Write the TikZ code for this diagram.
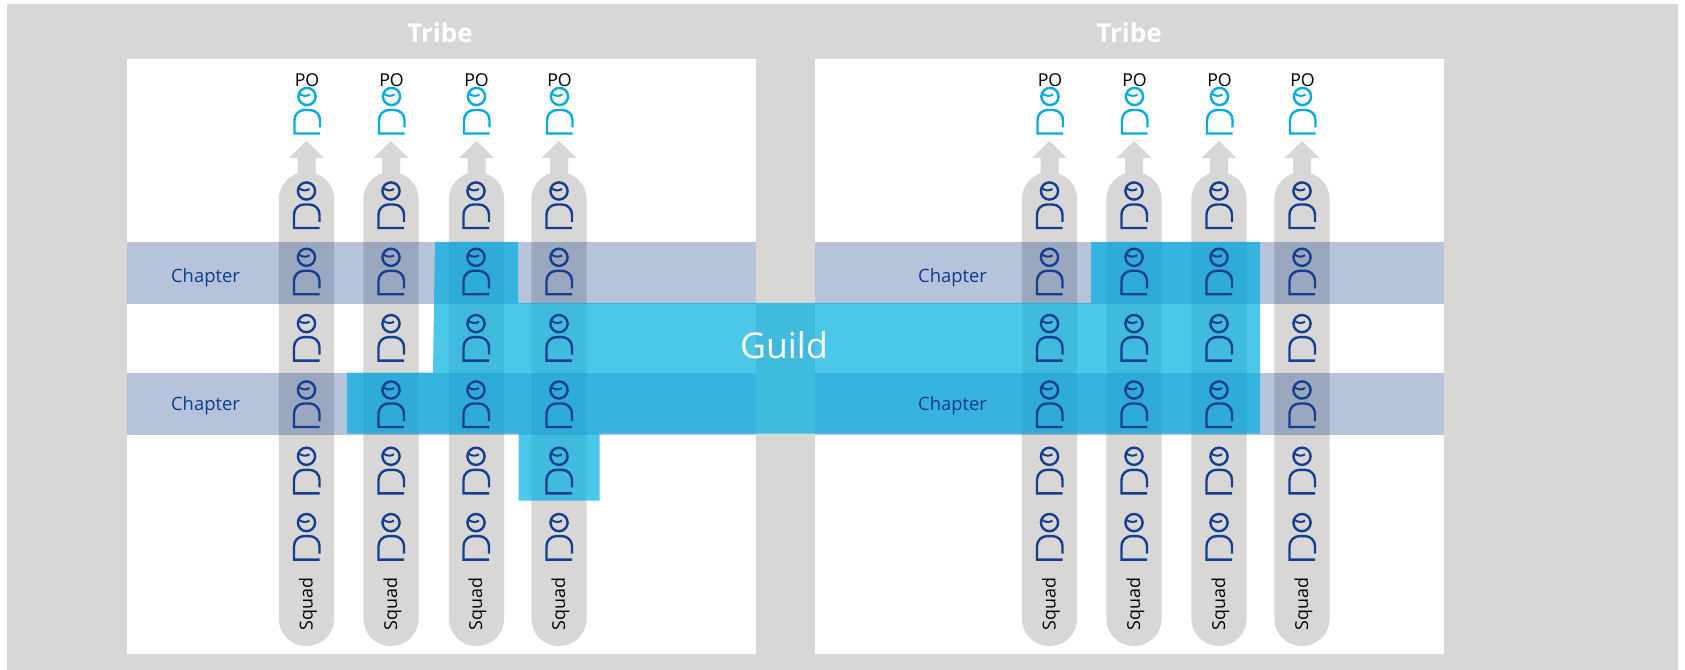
\documentclass[tikz,border=0pt]{standalone}
\usepackage{fontspec}
\setmainfont{Open Sans}
\usetikzlibrary{calc}
\definecolor{tribegrey}{HTML}{D8D7D5}
\definecolor{chapternavy}{HTML}{0F3A8A}
\definecolor{guildblue}{HTML}{00AEE1}
\definecolor{personblue}{HTML}{143F90}
\definecolor{pocyan}{HTML}{00ACE4}
\tikzset{
  person/.pic = {
    \draw [line width=1.8pt, pic actions] (0,0) circle (8.6);
    \draw [line width=1.5pt, pic actions] (-8,-3) .. controls (-4,0) and (0,0) .. (3,-2);
    \draw [line width=1.8pt, pic actions] (13,31) [rounded corners=7.5pt] -- (13,13.5) -- (-12.5,13.5) [sharp corners] -- (-12.5,37) -- (13,37);
  },
  squadlabel/.style = {rotate=90, font=\fontsize{13.4}{16}\selectfont, text=black},
  polabel/.style = {font=\fontsize{13.3}{16}\selectfont, text=black, inner sep=0pt},
  chapterlabel/.style = {font=\fontsize{13.8}{16}\selectfont, text=chapternavy},
  tribelabel/.style = {font=\fontsize{19.5}{24}\selectfont\bfseries, text=white}
}
\begin{document}
\begin{tikzpicture}[x=0.75pt, y=-0.75pt]
\useasboundingbox (0,0) rectangle (1685,670);
\fill [tribegrey] (7,4) rectangle (1678,670);
\fill [white] (127,59) rectangle (756,654);
\fill [white] (815,59) rectangle (1444,654);
% squads
\foreach \x in {306.5, 391, 476.5, 559, 1049.5, 1134, 1219, 1302} {
  \fill [tribegrey, rounded corners=20.6pt] ($(\x,172)+(-27.7,0)$) rectangle ($(\x,646)+(27.7,0)$);
  \fill [tribegrey] ($(\x,141)$) -- ($(\x,158)+(17.5,0)$) -- ($(\x,158)+(9,0)$) -- ($(\x,180)+(9,0)$)
    -- ($(\x,180)+(-9,0)$) -- ($(\x,158)+(-9,0)$) -- ($(\x,158)+(-17.5,0)$) -- cycle;
}
% chapters
\foreach \y in {242, 373} {
  \fill [chapternavy, fill opacity=0.3] (127,\y) rectangle (756,\y+62);
  \fill [chapternavy, fill opacity=0.3] (815,\y) rectangle (1444,\y+62);
}
% guild
\fill [guildblue, fill opacity=0.7] (435,242) -- (518,242) -- (518,303) -- (1091,303) -- (1091,242)
  -- (1260,242) -- (1260,433.5) -- (599.5,433.5) -- (599.5,500.5) -- (518.5,500.5) -- (518.5,433.5)
  -- (347,433.5) -- (347,372.7) -- (433,372.7) -- cycle;
% people
\foreach \x/\n in {306.5/a, 391/b, 476/c, 559/d, 1049.5/e, 1134/f, 1219/g, 1302/h} {
  \node [polabel] (po\n) at (\x+0.5,80) {PO};
  \pic [draw=pocyan] at (\x+0.5,96.5) {person};
  \foreach \y in {191, 257.3, 323.6, 390, 456.3, 522.6} {
    \pic [draw=personblue] at (\x,\y) {person};
  }
  \node [squadlabel] (squad\n) at (\x+1.5,604) {Squad};
}
\node [tribelabel] (tribeleft) at (440,33) {Tribe};
\node [tribelabel] (triberight) at (1129,33) {Tribe};
\node [chapterlabel] (chapterone) at (205.5,278) {Chapter};
\node [chapterlabel] (chaptertwo) at (205.5,406) {Chapter};
\node [chapterlabel] (chapterthree) at (952.5,278) {Chapter};
\node [chapterlabel] (chapterfour) at (952.5,406) {Chapter};
\node [font=\fontsize{26.7}{32}\selectfont, text=white] (guild) at (784,345) {Guild};
\end{tikzpicture}
\end{document}
